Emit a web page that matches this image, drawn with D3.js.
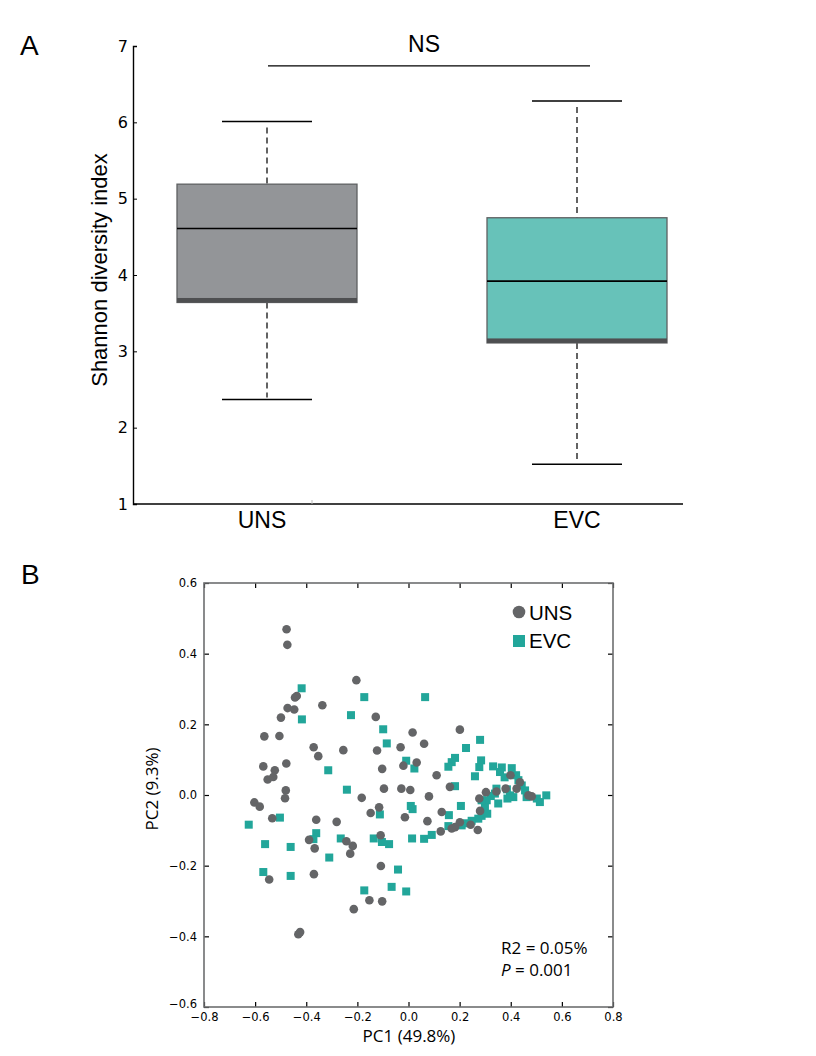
<!DOCTYPE html>
<html>
<head>
<meta charset="utf-8">
<script src="https://cdn.jsdelivr.net/npm/d3@7"></script>
<style>
  html, body { margin: 0; padding: 0; background: #fff; }
  svg { display: block; }
</style>
</head>
<body>
<svg id="chart" width="816" height="1056"></svg>
<script>
// ---------------- DATA ----------------
// Panel A: box plot summary (Shannon diversity index)
const groups = ["UNS", "EVC"];
const boxLow    = [2.37, 1.52];
const boxQ1     = [3.64, 3.11];
const boxMedian = [4.61, 3.92];
const boxQ3     = [5.19, 4.75];
const boxHigh   = [6.01, 6.28];
const shannonTicks = [1, 2, 3, 4, 5, 6, 7];
const sigLevel = 6.74;
const sigLabel = "NS";

// Panel B: PCoA coordinates
const unsPC1 = [-0.477,-0.474,-0.204,-0.437,-0.444,-0.473,-0.447,-0.337,-0.499,-0.128,
  -0.564,-0.505,0.016,-0.371,-0.353,-0.255,-0.123,-0.031,-0.568,-0.523,
  -0.551,-0.529,-0.478,-0.103,-0.020,0.032,-0.480,-0.483,-0.096,-0.028,
  0.007,-0.603,-0.582,-0.183,-0.533,-0.361,-0.281,-0.148,-0.115,-0.014,
  -0.389,-0.367,-0.243,-0.218,-0.228,-0.109,-0.108,-0.545,-0.370,-0.153,
  -0.103,-0.214,-0.431,-0.424,0.201,0.061,0.110,0.162,0.080,0.277,
  0.303,0.344,0.380,0.399,0.436,0.423,0.482,0.469,0.130,0.280,
  0.074,0.201,0.182,0.169,0.243,0.271,0.126];
const unsPC2 = [0.469,0.425,0.325,0.280,0.276,0.246,0.242,0.254,0.219,0.221,
  0.166,0.167,0.177,0.135,0.110,0.127,0.126,0.135,0.081,0.070,
  0.044,0.051,0.089,0.074,0.083,0.092,0.013,-0.009,0.018,0.018,
  0.014,-0.021,-0.033,-0.008,-0.066,-0.070,-0.076,-0.051,-0.035,-0.063,
  -0.127,-0.151,-0.131,-0.144,-0.166,-0.114,-0.201,-0.239,-0.224,-0.298,
  -0.301,-0.323,-0.394,-0.388,0.185,0.145,0.056,0.023,-0.004,-0.010,
  0.008,0.010,0.018,0.056,0.036,0.018,-0.004,-0.001,-0.048,-0.045,
  -0.074,-0.077,-0.091,-0.095,-0.084,-0.099,-0.103];
const evcPC1 = [-0.418,-0.173,-0.417,-0.225,-0.099,-0.085,-0.009,0.023,-0.314,-0.241,
  0.009,0.016,-0.112,-0.625,-0.503,-0.361,-0.372,-0.561,-0.461,-0.265,
  -0.136,-0.104,-0.076,0.014,-0.310,-0.568,-0.461,-0.041,-0.173,-0.066,
  -0.009,0.065,0.280,0.225,0.182,0.169,0.156,0.284,0.277,0.260,
  0.331,0.365,0.404,0.358,0.376,0.421,0.430,0.443,0.456,0.182,
  0.344,0.338,0.385,0.397,0.410,0.387,0.462,0.322,0.306,0.351,
  0.299,0.286,0.502,0.539,0.514,0.205,0.158,0.286,0.308,0.273,
  0.247,0.228,0.208,0.156,0.091,0.061];
const evcPC2 = [0.302,0.277,0.214,0.226,0.186,0.146,0.097,0.075,0.070,0.015,
  -0.031,-0.040,-0.055,-0.084,-0.064,-0.108,-0.125,-0.139,-0.147,-0.123,
  -0.123,-0.133,-0.139,-0.123,-0.177,-0.218,-0.229,-0.211,-0.270,-0.260,
  -0.273,0.277,0.156,0.133,0.105,0.093,0.080,0.098,0.079,0.053,
  0.081,0.078,0.076,0.065,0.050,0.056,0.042,0.027,0.013,0.025,
  0.018,0.004,0.016,-0.001,-0.006,-0.010,-0.006,-0.003,-0.015,-0.024,
  -0.034,-0.015,-0.010,-0.001,-0.020,-0.031,-0.057,-0.059,-0.053,-0.067,
  -0.073,-0.080,-0.086,-0.088,-0.113,-0.124];
const pcTicksX = [-0.8,-0.6,-0.4,-0.2,0.0,0.2,0.4,0.6,0.8];
const pcTicksY = [-0.6,-0.4,-0.2,0.0,0.2,0.4,0.6];
const statLines = ["R2 = 0.05%", "P = 0.001"];

// ---------------- STYLE ----------------
const GRAY_BOX = "#939598", TEAL_BOX = "#67c2b9";
const GRAY_PT = "#646567", TEAL_PT = "#22a69a";
const sans = "'Liberation Sans', Arial, Helvetica, sans-serif";
const dejavu = "'DejaVu Sans', sans-serif";
const myriad = "'Open Sans', 'Noto Sans', sans-serif";

const svg = d3.select("#chart");

// ---------------- PANEL A ----------------
const ax = d3.scalePoint().domain(groups).range([267, 577]);
const ay = d3.scaleLinear().domain([1, 7]).range([504, 46]);
const A = svg.append("g");
const boxW = 180, capW = 90;
const fills = [GRAY_BOX, TEAL_BOX];

svg.append("text").attr("x", 20).attr("y", 55).attr("font-family", sans)
  .attr("font-size", 28).text("A");

// y axis
const yAxisA = d3.axisLeft(ay).tickValues(shannonTicks).tickSize(-4).tickPadding(5)
  .tickFormat(d3.format("d"));
const gyA = A.append("g").attr("transform", "translate(133,0)").call(yAxisA);
gyA.select(".domain").attr("stroke", "#000").attr("stroke-width", 1.4);
gyA.selectAll(".tick line").attr("stroke", "#000").attr("stroke-width", 1);
gyA.selectAll(".tick text").attr("font-family", dejavu).attr("font-size", 16).attr("fill", "#000");

// x axis line
A.append("line").attr("x1", 133).attr("x2", 683).attr("y1", ay(1)).attr("y2", ay(1))
  .attr("stroke", "#000").attr("stroke-width", 1.4);
A.append("line").attr("x1", 312).attr("x2", 312).attr("y1", ay(1)).attr("y2", ay(1) - 4)
  .attr("stroke", "#bbb").attr("stroke-width", 1);

groups.forEach((g, i) => {
  const cx = ax(g);
  // whiskers (dashed)
  A.append("line").attr("x1", cx).attr("x2", cx)
    .attr("y1", ay(boxHigh[i]) + 6).attr("y2", ay(boxQ3[i]))
    .attr("stroke", "#3d3d3d").attr("stroke-width", 1.6).attr("stroke-dasharray", "6,4");
  A.append("line").attr("x1", cx).attr("x2", cx)
    .attr("y1", ay(boxQ1[i])).attr("y2", ay(boxLow[i]) - 2)
    .attr("stroke", "#3d3d3d").attr("stroke-width", 1.6).attr("stroke-dasharray", "6,4");
  // caps
  [boxHigh[i], boxLow[i]].forEach(v => {
    A.append("line").attr("x1", cx - capW / 2).attr("x2", cx + capW / 2)
      .attr("y1", ay(v)).attr("y2", ay(v)).attr("stroke", "#000").attr("stroke-width", 1.5);
  });
  // box
  A.append("rect").attr("x", cx - boxW / 2).attr("width", boxW)
    .attr("y", ay(boxQ3[i])).attr("height", ay(boxQ1[i]) - ay(boxQ3[i]))
    .attr("fill", fills[i]).attr("stroke", "#5f6062").attr("stroke-width", 1.3);
  // dark band at the lower hinge
  A.append("rect").attr("x", cx - boxW / 2).attr("width", boxW)
    .attr("y", ay(boxQ1[i]) - 4.5).attr("height", 4.5)
    .attr("fill", "#4e4f51");
  // median
  A.append("line").attr("x1", cx - boxW / 2).attr("x2", cx + boxW / 2)
    .attr("y1", ay(boxMedian[i])).attr("y2", ay(boxMedian[i]))
    .attr("stroke", "#000").attr("stroke-width", 1.6);
  // category label
  A.append("text").attr("x", cx - (i === 0 ? 5 : 0)).attr("y", 528).attr("text-anchor", "middle")
    .attr("font-family", sans).attr("font-size", 23).text(g);
});

// significance bar
A.append("line").attr("x1", ax("UNS") + 1).attr("x2", ax("EVC") + 13)
  .attr("y1", ay(sigLevel)).attr("y2", ay(sigLevel)).attr("stroke", "#000").attr("stroke-width", 1.4);
A.append("text").attr("x", 424).attr("y", 52).attr("text-anchor", "middle")
  .attr("font-family", sans).attr("font-size", 23).text(sigLabel);

// y label
A.append("text").attr("transform", "translate(107,270) rotate(-90)").attr("text-anchor", "middle")
  .attr("font-family", sans).attr("font-size", 22).text("Shannon diversity index");

// ---------------- PANEL B ----------------
const bx = d3.scaleLinear().domain([-0.8, 0.8]).range([204, 613]);
const by = d3.scaleLinear().domain([-0.6, 0.6]).range([1007, 583]);
const B = svg.append("g");
const frameCol = "#6d6e70";
const fmt = d3.format(".1f");

svg.append("text").attr("x", 21).attr("y", 584).attr("font-family", sans)
  .attr("font-size", 28).text("B");

function styleAxis(g, showText) {
  g.select(".domain").remove();
  g.selectAll(".tick line").attr("stroke", "#000").attr("stroke-width", 1.2);
  g.selectAll(".tick text").attr("font-family", dejavu).attr("font-size", 11.5).attr("fill", "#000");
  if (!showText) g.selectAll(".tick text").remove();
}
styleAxis(B.append("g").attr("transform", `translate(0,${by(-0.6)})`)
  .call(d3.axisBottom(bx).tickValues(pcTicksX).tickSize(-5).tickPadding(6).tickFormat(fmt)), true);
styleAxis(B.append("g").attr("transform", `translate(0,${by(0.6)})`)
  .call(d3.axisTop(bx).tickValues(pcTicksX).tickSize(-5)), false);
const gyB = B.append("g").attr("transform", `translate(${bx(-0.8)},0)`)
  .call(d3.axisLeft(by).tickValues(pcTicksY).tickSize(-5).tickPadding(7).tickFormat(fmt));
styleAxis(gyB, true);
gyB.selectAll(".tick").filter(d => d === -0.6).select("text").attr("dy", "0.0em");
styleAxis(B.append("g").attr("transform", `translate(${bx(0.8)},0)`)
  .call(d3.axisRight(by).tickValues(pcTicksY).tickSize(-5)), false);

B.append("rect").attr("x", bx(-0.8)).attr("y", by(0.6))
  .attr("width", bx(0.8) - bx(-0.8)).attr("height", by(-0.6) - by(0.6))
  .attr("fill", "none").attr("stroke", frameCol).attr("stroke-width", 1.6);

// points
const uns = unsPC1.map((v, i) => [v, unsPC2[i]]);
const evc = evcPC1.map((v, i) => [v, evcPC2[i]]);
const sq = 8;
B.append("g").selectAll("rect").data(evc).join("rect")
  .attr("x", d => bx(d[0]) - sq / 2).attr("y", d => by(d[1]) - sq / 2)
  .attr("width", sq).attr("height", sq).attr("fill", TEAL_PT);
B.append("g").selectAll("circle").data(uns).join("circle")
  .attr("cx", d => bx(d[0])).attr("cy", d => by(d[1])).attr("r", 4.3).attr("fill", GRAY_PT);

// legend
B.append("circle").attr("cx", 519).attr("cy", 612).attr("r", 6.3).attr("fill", GRAY_PT);
B.append("rect").attr("x", 513).attr("y", 635).attr("width", 12).attr("height", 12).attr("fill", TEAL_PT);
B.append("text").attr("x", 529).attr("y", 620).attr("font-family", sans).attr("font-size", 20.5).text("UNS");
B.append("text").attr("x", 529).attr("y", 648).attr("font-family", sans).attr("font-size", 20.5).text("EVC");

// stats
B.append("text").attr("x", 501).attr("y", 954).attr("font-family", myriad).attr("font-size", 17)
  .text(statLines[0]);
const pText = B.append("text").attr("x", 501).attr("y", 976).attr("font-family", myriad).attr("font-size", 17);
pText.append("tspan").attr("font-style", "italic").text(statLines[1].slice(0, 1));
pText.append("tspan").text(statLines[1].slice(1));

// axis labels
B.append("text").attr("x", 409).attr("y", 1042).attr("text-anchor", "middle")
  .attr("font-family", myriad).attr("font-size", 17).text("PC1 (49.8%)");
B.append("text").attr("transform", "translate(158,789) rotate(-90)").attr("text-anchor", "middle")
  .attr("font-family", myriad).attr("font-size", 17).text("PC2 (9.3%)");
</script>
</body>
</html>
